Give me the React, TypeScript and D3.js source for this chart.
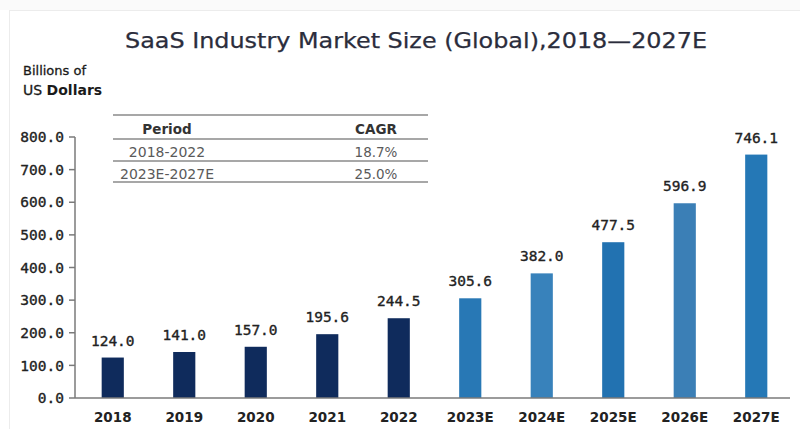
import React from "react";
import * as d3 from "d3";

const years = ["2018", "2019", "2020", "2021", "2022", "2023E", "2024E", "2025E", "2026E", "2027E"];
const marketSize = [124.0, 141.0, 157.0, 195.6, 244.5, 305.6, 382.0, 477.5, 596.9, 746.1];
const barColors = ["#0f2b5c", "#0f2b5c", "#0f2b5c", "#0f2b5c", "#0f2b5c", "#2878b5", "#3882bb", "#2272b1", "#3b7fb6", "#2578b6"];
const yTicks = [0, 100, 200, 300, 400, 500, 600, 700, 800];
const tablePeriods = ["2018-2022", "2023E-2027E"];
const tableCagr = ["18.7%", "25.0%"];

const W = 800;
const H = 429;

export default function App() {
  const y = d3.scaleLinear().domain([0, 800]).range([398, 137]);
  const x = d3.scaleBand<string>().domain(years).range([77, 792]).paddingInner(0.69).paddingOuter(0.345);
  const axisColor = "#7a7a7a";
  const mono = "'DejaVu Sans Mono', monospace";
  const sans = "'DejaVu Sans', sans-serif";

  return (
    <div style={{ position: "absolute", left: 0, top: 0 }}>
      <svg width={W} height={H} viewBox={`0 0 ${W} ${H}`} style={{ display: "block", background: "#fff" }}>
        <rect x={0} y={0} width={W} height={10} fill="#fafafa" />
        <line x1={9} y1={10.5} x2={W} y2={10.5} stroke="#ececec" strokeWidth={1} />
        <line x1={9.5} y1={10} x2={9.5} y2={H} stroke="#ececec" strokeWidth={1} />

        <text x={125} y={48} fontFamily={sans} fontSize={21} fill="#2b2d3c" stroke="#2b2d3c" strokeWidth={0.25} textLength={582} lengthAdjust="spacingAndGlyphs">
          SaaS Industry Market Size (Global),2018—2027E
        </text>

        <text x={23} y={75} fontFamily={sans} fontSize={13} fill="#1a1a1a" stroke="#1a1a1a" strokeWidth={0.3}>Billions of</text>
        <text x={23} y={95} fontFamily={sans} fontSize={14} fill="#1a1a1a">
          <tspan stroke="#1a1a1a" strokeWidth={0.3}>US </tspan>
          <tspan fontWeight="bold">Dollars</tspan>
        </text>

        {/* CAGR table */}
        <g>
          {[115, 139, 161, 182].map((ly, i) => (
            <line key={i} x1={113} x2={428} y1={ly} y2={ly} stroke="#8a8a8a" strokeWidth={1.3} />
          ))}
          <text x={167} y={134} textAnchor="middle" fontFamily={sans} fontSize={13.5} fontWeight="bold" fill="#333">Period</text>
          <text x={376} y={134} textAnchor="middle" fontFamily={sans} fontSize={13.5} fontWeight="bold" fill="#333">CAGR</text>
          {tablePeriods.map((p, i) => (
            <text key={p} x={167} y={157 + i * 22} textAnchor="middle" fontFamily={sans} fontSize={14} fill="#5a5a5a">{p}</text>
          ))}
          {tableCagr.map((c, i) => (
            <text key={c} x={376} y={157 + i * 22} textAnchor="middle" fontFamily={sans} fontSize={13.5} fill="#5a5a5a">{c}</text>
          ))}
        </g>

        {/* y axis */}
        <line x1={75} x2={75} y1={y(800)} y2={y(0)} stroke={axisColor} strokeWidth={1.5} />
        {yTicks.map((t) => (
          <g key={t}>
            <line x1={69} x2={75} y1={y(t)} y2={y(t)} stroke={axisColor} strokeWidth={1.5} />
            <text x={64} y={y(t)} dy="0.36em" textAnchor="end" fontFamily={mono} fontSize={14.5} fill="#222" stroke="#222" strokeWidth={0.35}>
              {t.toFixed(1)}
            </text>
          </g>
        ))}

        {/* bars */}
        {years.map((yr, i) => (
          <rect key={yr} x={x(yr)} y={y(marketSize[i])} width={x.bandwidth()} height={y(0) - y(marketSize[i])} fill={barColors[i]} />
        ))}
        {years.map((yr, i) => (
          <text key={yr} x={(x(yr) as number) + x.bandwidth() / 2} y={y(marketSize[i]) - 12} textAnchor="middle" fontFamily={mono} fontSize={14.5} fill="#222" stroke="#222" strokeWidth={0.35}>
            {marketSize[i].toFixed(1)}
          </text>
        ))}

        {/* x axis */}
        <line x1={75} x2={790} y1={y(0)} y2={y(0)} stroke={axisColor} strokeWidth={1.5} />
        {years.map((yr) => (
          <text key={yr} x={(x(yr) as number) + x.bandwidth() / 2} y={422} textAnchor="middle" fontFamily={sans} fontSize={13.5} fontWeight="bold" fill="#222">
            {yr}
          </text>
        ))}
      </svg>
    </div>
  );
}
